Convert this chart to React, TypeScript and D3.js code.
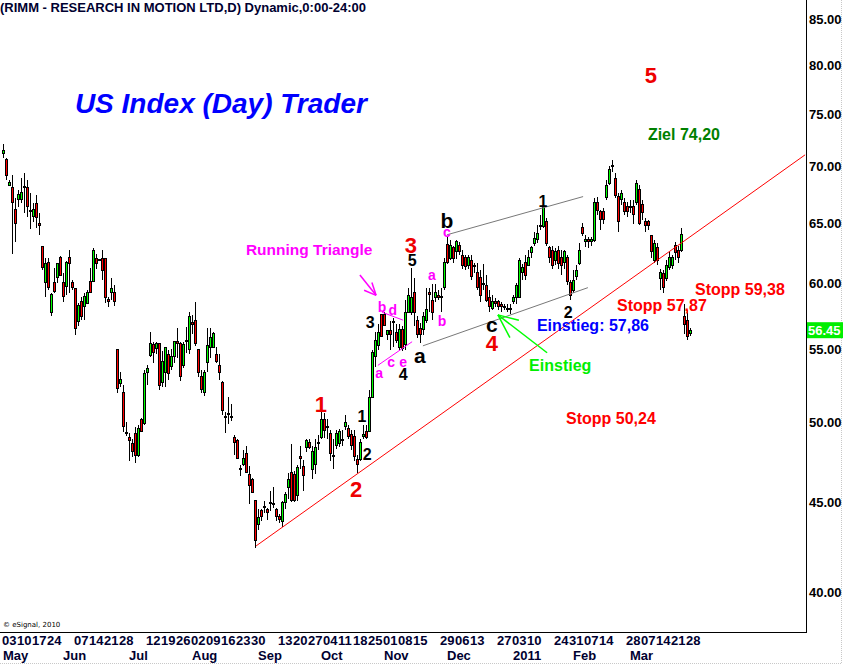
import React from 'react';
import * as d3 from 'd3';

// ---------- DATA (RIMM daily, May 3 2010 .. Mar 29 2011) ----------
const opens = [
  71.2, 70.7, 68.3, 68.1, 66.2, 67.0, 67.0, 68.2, 68.1, 66.1, 65.6, 66.7, 65.0, 63.0, 60.1, 61.7, 57.8, 60.1, 60.5, 62.1,
  60.1, 59.8, 62.1, 60.1, 59.6, 57.1, 58.6, 58.2, 58.5, 60.2, 60.2, 62.0, 61.95, 62.0, 62.0, 58.8, 59.3, 59.3, 55.0, 52.6,
  52.0, 49.35, 49.0, 48.6, 49.3, 47.9, 50.2, 49.9, 53.4, 54.6, 55.4, 55.1, 55.5, 52.7, 53.4, 54.7, 53.8, 54.5, 55.6, 55.5,
  53.9, 55.7, 55.0, 57.0, 57.2, 55.0, 53.1, 52.0, 54.1, 55.2, 55.2, 54.7, 53.9, 52.7, 50.4, 50.6, 50.4, 49.0, 48.8, 47.05,
  47.3, 48.0, 46.7, 46.4, 45.1, 43.7, 44.5, 44.75, 44.6, 44.95, 44.95, 44.6, 44.2, 43.9, 45.0, 45.9, 46.8, 46.7, 45.4, 47.8,
  47.2, 48.4, 48.7, 47.0, 47.3, 48.65, 49.0, 50.2, 49.7, 49.3, 47.9, 48.5, 48.6, 48.9, 49.7, 49.6, 49.2, 49.1, 47.6, 47.6,
  49.1, 49.4, 49.4, 51.7, 54.5, 55.3, 57.6, 57.6, 56.1, 56.4, 57.1, 56.3, 55.2, 56.5, 55.4, 57.8, 57.8, 59.3, 57.2, 56.6,
  56.5, 57.2, 59.3, 58.7, 58.9, 59.1, 59.0, 59.7, 63.2, 62.0, 62.9, 62.6, 63.1, 62.3, 62.1, 61.5, 61.9, 61.5, 60.9, 60.5,
  60.0, 59.9, 58.9, 58.1, 58.6, 58.6, 58.4, 58.2, 58.1, 58.1, 58.6, 58.9, 58.9, 60.9, 61.7, 61.5, 62.5, 63.3, 63.6, 64.8,
  64.7, 65.1, 62.9, 62.7, 61.9, 62.7, 62.1, 61.7, 62.1, 60.1, 59.5, 60.6, 61.6, 64.6, 63.4, 63.6, 63.4, 63.5, 66.8, 66.0,
  66.0, 67.2, 68.5, 70.1, 68.9, 67.3, 67.0, 66.8, 66.4, 66.3, 66.4, 66.8, 67.9, 66.6, 65.1, 65.1, 63.9, 61.9, 62.9, 60.4,
  60.8, 60.4, 61.3, 61.5, 63.1, 62.7, 62.7, 57.5, 57.2, 56.2,
];
const highs = [
  72.1, 70.8, 68.8, 69.2, 67.2, 67.9, 69.0, 69.4, 68.8, 67.6, 66.7, 67.4, 65.9, 63.0, 62.1, 62.1, 59.3, 61.3, 61.7, 62.2,
  60.9, 61.8, 62.7, 60.3, 59.7, 58.5, 59.0, 59.3, 59.5, 61.3, 62.9, 62.4, 62.0, 62.7, 62.0, 59.0, 60.5, 59.9, 55.0, 53.4,
  52.5, 50.0, 49.3, 48.9, 49.7, 49.8, 50.3, 53.6, 53.9, 56.3, 55.6, 55.6, 55.5, 54.9, 55.2, 55.0, 55.1, 55.6, 56.6, 55.6,
  55.6, 56.7, 57.8, 57.6, 58.6, 55.1, 53.6, 53.6, 56.6, 56.6, 56.3, 55.2, 54.7, 52.8, 50.7, 51.7, 51.2, 49.2, 48.9, 47.3,
  48.2, 48.5, 47.2, 46.5, 45.1, 44.6, 44.6, 45.1, 44.7, 45.7, 45.9, 44.7, 44.3, 45.1, 45.6, 46.8, 48.6, 46.9, 47.3, 48.5,
  47.6, 48.9, 48.9, 48.5, 48.9, 49.2, 51.2, 50.6, 50.2, 49.5, 48.9, 49.5, 49.6, 49.5, 50.5, 49.8, 49.5, 49.5, 47.9, 48.9,
  49.8, 49.8, 52.2, 55.0, 56.3, 56.9, 57.7, 57.8, 56.5, 57.1, 57.4, 56.9, 56.9, 56.8, 58.7, 59.7, 61.3, 60.5, 57.5, 57.0,
  57.8, 59.7, 59.7, 60.0, 60.0, 59.5, 59.7, 62.1, 63.9, 63.6, 63.1, 63.6, 63.4, 62.7, 62.3, 62.3, 62.3, 61.7, 61.7, 61.1,
  61.6, 60.7, 59.5, 59.1, 58.9, 58.7, 58.6, 58.4, 58.4, 58.4, 59.1, 60.1, 62.1, 61.6, 62.3, 62.7, 63.1, 64.2, 64.8, 65.7,
  66.8, 65.4, 63.1, 63.1, 62.9, 63.1, 62.7, 62.7, 62.3, 60.3, 61.1, 61.5, 63.3, 65.0, 64.0, 63.8, 63.8, 67.2, 67.3, 66.1,
  66.3, 68.8, 70.1, 70.6, 69.4, 67.6, 67.9, 67.2, 66.8, 67.0, 67.0, 68.8, 68.3, 67.0, 65.4, 65.3, 64.0, 63.6, 63.3, 61.2,
  61.1, 61.9, 62.6, 62.3, 63.4, 63.1, 64.6, 58.4, 58.0, 56.6,
];
const lows = [
  70.8, 68.8, 68.2, 62.4, 63.4, 66.4, 66.7, 65.9, 65.5, 64.5, 65.1, 64.6, 64.0, 61.1, 59.0, 59.5, 57.5, 59.3, 60.1, 60.6,
  58.6, 59.1, 59.3, 59.5, 56.1, 56.8, 57.2, 57.2, 58.4, 59.3, 60.2, 61.2, 61.8, 60.3, 58.5, 58.2, 58.7, 58.3, 52.0, 52.4,
  49.4, 49.1, 47.5, 47.8, 47.4, 47.8, 49.4, 49.8, 52.5, 54.5, 54.1, 54.7, 52.2, 52.4, 52.4, 52.9, 53.6, 54.1, 54.4, 52.8,
  53.7, 54.8, 54.7, 56.2, 55.3, 53.1, 52.0, 51.8, 53.4, 54.4, 55.2, 54.1, 52.9, 50.5, 49.3, 49.9, 50.1, 47.9, 47.7, 46.6,
  47.2, 46.8, 44.9, 45.6, 42.4, 43.4, 43.9, 44.4, 44.0, 44.5, 44.7, 43.9, 43.8, 43.6, 44.6, 45.2, 45.0, 45.0, 45.1, 47.0,
  45.7, 48.1, 48.3, 46.4, 46.7, 48.2, 48.9, 49.0, 48.9, 47.5, 47.0, 48.3, 48.4, 48.5, 49.5, 48.9, 48.2, 47.5, 46.8, 47.5,
  48.9, 48.9, 49.4, 51.6, 53.8, 55.0, 56.0, 56.8, 55.7, 55.0, 55.2, 55.5, 55.0, 54.9, 55.0, 57.8, 57.6, 56.8, 55.9, 55.5,
  56.1, 57.0, 57.8, 57.2, 58.6, 58.7, 57.8, 59.5, 61.6, 61.9, 61.7, 62.0, 62.3, 61.2, 61.1, 61.2, 60.3, 60.9, 59.5, 58.6,
  59.5, 58.6, 57.8, 58.0, 58.2, 58.0, 57.8, 58.0, 57.8, 57.7, 58.4, 58.4, 58.9, 60.3, 60.3, 61.4, 62.1, 63.1, 63.3, 64.4,
  64.6, 63.1, 61.7, 61.2, 61.5, 61.2, 60.7, 61.2, 59.9, 58.7, 59.3, 60.3, 61.5, 63.9, 63.0, 62.9, 63.1, 63.4, 65.7, 64.4,
  64.9, 67.0, 68.3, 69.5, 67.2, 64.2, 66.6, 65.7, 65.5, 65.9, 64.9, 66.6, 64.8, 65.3, 64.2, 64.4, 62.1, 61.7, 61.5, 59.5,
  59.3, 60.2, 61.1, 61.2, 61.9, 61.7, 62.6, 56.2, 55.7, 56.0,
];
const closes = [
  71.5, 69.2, 68.6, 66.8, 65.0, 67.5, 67.7, 68.1, 66.4, 66.0, 66.2, 65.5, 64.8, 61.3, 61.6, 59.7, 59.2, 59.4, 61.6, 60.7,
  59.0, 61.7, 61.6, 59.7, 56.6, 58.3, 57.5, 59.0, 59.3, 59.3, 62.7, 61.6, 61.9, 61.1, 58.9, 58.6, 59.6, 58.6, 52.3, 52.9,
  49.7, 49.3, 48.8, 48.1, 47.9, 49.6, 49.4, 53.3, 53.7, 55.5, 54.8, 55.5, 52.5, 54.2, 55.2, 53.3, 54.5, 55.6, 55.5, 53.1,
  55.4, 55.6, 57.5, 56.9, 55.5, 53.4, 52.2, 53.4, 55.3, 55.9, 56.2, 54.2, 53.4, 50.8, 50.3, 50.5, 50.35, 48.7, 47.7, 47.0,
  47.7, 46.8, 46.0, 45.6, 42.8, 44.1, 44.2, 44.7, 44.4, 45.0, 44.9, 44.2, 44.0, 45.0, 45.5, 46.4, 45.1, 45.1, 47.1, 47.7,
  46.6, 48.8, 48.4, 48.1, 48.4, 48.7, 50.2, 49.5, 49.65, 48.0, 47.85, 49.3, 49.4, 48.8, 50.0, 49.1, 48.5, 47.8, 47.3, 48.7,
  49.2, 49.0, 51.7, 54.8, 55.7, 56.3, 56.0, 56.8, 56.4, 56.1, 57.0, 55.7, 56.5, 55.1, 57.8, 59.1, 58.9, 57.8, 56.1, 56.1,
  57.5, 58.0, 59.2, 57.8, 59.3, 58.9, 58.9, 61.7, 61.7, 63.1, 62.0, 63.4, 62.6, 61.5, 61.4, 62.1, 60.6, 61.4, 59.7, 59.1,
  60.0, 58.7, 58.2, 58.6, 58.5, 58.2, 58.2, 58.2, 58.1, 58.0, 58.9, 59.9, 61.9, 61.3, 60.7, 62.1, 62.9, 63.7, 64.1, 64.8,
  66.3, 63.3, 62.1, 61.5, 62.6, 61.6, 61.5, 62.6, 60.2, 59.1, 60.3, 61.1, 62.7, 64.1, 63.6, 63.4, 63.6, 66.8, 66.1, 65.3,
  65.3, 68.3, 69.7, 70.1, 67.4, 65.1, 67.6, 66.0, 66.0, 66.4, 65.7, 68.5, 65.0, 65.9, 64.8, 64.8, 62.6, 63.3, 61.9, 60.9,
  59.7, 61.5, 62.1, 62.1, 62.5, 62.1, 64.0, 56.9, 56.0, 56.45,
];

const priceTicks = [40, 45, 50, 55, 60, 65, 70, 75, 80, 85];
const dayTickIndex = [0, 5, 10, 15, 24, 29, 34, 39, 48, 53, 58, 63, 68, 73, 78, 83, 92, 97, 102, 107, 112, 117, 122,
  127, 132, 137, 146, 151, 156, 165, 170, 175, 184, 189, 194, 199, 208, 213, 218, 223, 228];
const dayTickText = ['03', '10', '17', '24', '07', '14', '21', '28', '12', '19', '26', '02', '09', '16', '23', '30',
  '13', '20', '27', '04', '11', '18', '25', '01', '08', '15', '29', '06', '13', '27', '03', '10', '24', '31', '07',
  '14', '28', '07', '14', '21', '28'];
const monthTickIndex = [0, 20, 42, 63, 85, 106, 127, 148, 170, 190, 209];
const monthTickText = ['May', 'Jun', 'Jul', 'Aug', 'Sep', 'Oct', 'Nov', 'Dec', '2011', 'Feb', 'Mar'];

// annotations in data space (bar index, price)
const redWaveLabels = [
  { t: '1', i: 105.8, p: 50.7 }, { t: '2', i: 117.5, p: 45.3 }, { t: '3', i: 135.8, p: 62.5 },
  { t: '4', i: 162.8, p: 54.9 }, { t: '5', i: 215.8, p: 78.2 },
];
const blackDigitLabels = [
  { t: '1', i: 119.5, p: 50.0 }, { t: '2', i: 121.2, p: 47.6 }, { t: '3', i: 122.2, p: 56.6 },
  { t: '4', i: 133.2, p: 52.9 }, { t: '5', i: 136.2, p: 61.4 }, { t: '1', i: 179.8, p: 66.4 },
  { t: '2', i: 188.2, p: 57.4 },
];
const blackLetterLabels = [
  { t: 'a', i: 138.8, p: 54.1 }, { t: 'b', i: 147.8, p: 64.6 }, { t: 'c', i: 162.8, p: 56.3 },
];
const magentaLabels = [
  { t: 'a', i: 125.2, p: 53.0 }, { t: 'b', i: 126.2, p: 57.8 }, { t: 'c', i: 129.2, p: 53.8 },
  { t: 'd', i: 129.8, p: 57.6 }, { t: 'e', i: 133.2, p: 53.8 }, { t: 'a', i: 142.8, p: 60.3 },
  { t: 'b', i: 146.2, p: 56.8 }, { t: 'c', i: 147.8, p: 63.8 },
];
const trendLine = [{ i: 84.2, p: 42.5 }, { i: 267.2, p: 71.1 }];
const channelUpper = [{ i: 147.8, p: 64.0 }, { i: 193.2, p: 67.3 }];
const channelLower = [{ i: 139.8, p: 55.3 }, { i: 194.8, p: 59.7 }];
const triangleUpper = [{ i: 126.2, p: 57.8 }, { i: 133.2, p: 57.2 }];
const triangleLower = [{ i: 124.8, p: 53.9 }, { i: 136.2, p: 55.6 }];
const magentaArrow = { tail: { i: 118.8, p: 60.7 }, tip: { i: 124.2, p: 59.1 }, heads: [{ i: 120.2, p: 59.5 }, { i: 122.8, p: 60.1 }] };
const greenArrow = { tail: { i: 181.2, p: 54.8 }, tip: { i: 164.8, p: 57.6 }, heads: [{ i: 171.8, p: 57.2 }, { i: 168.8, p: 55.9 }] };
const notes = {
  title: { t: 'US Index (Day) Trader', i: 23.8, p: 75.1 },
  triangle: { t: 'Running Triangle', i: 80.8, p: 62.3 },
  target: { t: 'Ziel 74,20', i: 214.8, p: 72.5 },
  entryValue: { t: 'Einstieg: 57,86', i: 177.8, p: 56.4 },
  entry: { t: 'Einstieg', i: 175.2, p: 53.5 },
  stops: [
    { t: 'Stopp 57,87', i: 204.5, p: 57.9 },
    { t: 'Stopp 59,38', i: 230.5, p: 59.1 },
    { t: 'Stopp 50,24', i: 187.5, p: 49.9 },
  ],
};
const headerText = '(RIMM - RESEARCH IN MOTION LTD,D) Dynamic,0:00-24:00';

const FONT = 'Arial, "Liberation Sans", Helvetica, sans-serif';

export default function App() {
  const W = 843, H = 665;
  const n = closes.length;
  const x = d3.scaleLinear().domain([0, 229]).range([3.5, 690.5]);
  const y = d3.scaleLog().domain([40, 85]).range([592, 592 - 760 * Math.log(85 / 40)]);
  const frameX = 806.5, frameY = 632.5;
  const line = d3.line<{ i: number; p: number }>().x(d => x(d.i)).y(d => y(d.p));
  const last = closes[n - 1];

  const candles = d3.range(n).map(k => {
    const o = opens[k], c = closes[k];
    const top = y(Math.max(o, c)), bot = y(Math.min(o, c));
    const up = c >= o;
    return (
      <g key={k}>
        <line x1={x(k)} x2={x(k)} y1={y(highs[k])} y2={y(lows[k])} stroke="#000" strokeWidth={1} />
        <rect x={x(k) - 1} y={top} width={2} height={Math.max(1, bot - top)}
          fill={up ? '#00ff00' : '#ff0000'} stroke="#000" strokeWidth={1} />
      </g>
    );
  });

  return (
    <svg width={W} height={H} style={{ position: 'absolute', left: 0, top: 0, background: '#fff' }}
      fontFamily={FONT}>
      <rect x={0} y={0} width={W} height={H} fill="#fff" />
      {/* outer light border */}
      <line x1={841.5} x2={841.5} y1={0} y2={664} stroke="#c8c8c8" strokeDasharray="1,1" />
      <line x1={0} x2={842} y1={663.5} y2={663.5} stroke="#c8c8c8" strokeDasharray="1,1" />

      {/* header */}
      <text x={0} y={12} fontSize={13} fontWeight="bold" fill="#000030">{headerText}</text>
      <text x={x(notes.title.i)} y={y(notes.title.p)} fontSize={28} fontWeight="bold" fontStyle="italic"
        fill="#0000ff">{notes.title.t}</text>

      {/* candles */}
      <g shapeRendering="crispEdges">{candles}</g>

      {/* trend and channel lines */}
      <path d={line(trendLine) || ''} stroke="#ff0000" strokeWidth={1} fill="none" />
      <path d={line(channelUpper) || ''} stroke="#787878" strokeWidth={1} fill="none" />
      <path d={line(channelLower) || ''} stroke="#787878" strokeWidth={1} fill="none" />
      <path d={line(triangleUpper) || ''} stroke="#ff00ff" strokeWidth={1} fill="none" />
      <path d={line(triangleLower) || ''} stroke="#ff00ff" strokeWidth={1} fill="none" />

      {/* magenta arrow */}
      <g stroke="#ff00ff" strokeWidth={1.5} fill="none">
        <path d={line([magentaArrow.tail, magentaArrow.tip]) || ''} />
        {magentaArrow.heads.map((h, k) => <path key={k} d={line([h, magentaArrow.tip]) || ''} />)}
      </g>
      {/* green arrow */}
      <g stroke="#00ff00" strokeWidth={1.5} fill="none">
        <path d={line([greenArrow.tail, greenArrow.tip]) || ''} />
        {greenArrow.heads.map((h, k) => <path key={k} d={line([h, greenArrow.tip]) || ''} />)}
      </g>

      {/* wave labels */}
      {redWaveLabels.map((l, k) => (
        <text key={'r' + k} x={x(l.i)} y={y(l.p)} fontSize={22} fontWeight="bold" fill="#ee0000" textAnchor="middle">{l.t}</text>
      ))}
      {blackDigitLabels.map((l, k) => (
        <text key={'bd' + k} x={x(l.i)} y={y(l.p)} fontSize={16} fontWeight="bold" fill="#000" textAnchor="middle">{l.t}</text>
      ))}
      {blackLetterLabels.map((l, k) => (
        <text key={'bl' + k} x={x(l.i)} y={y(l.p)} fontSize={21} fontWeight="bold" fill="#000" textAnchor="middle">{l.t}</text>
      ))}
      {magentaLabels.map((l, k) => (
        <text key={'m' + k} x={x(l.i)} y={y(l.p)} fontSize={14} fontWeight="bold" fill="#ff00ff" textAnchor="middle">{l.t}</text>
      ))}

      {/* notes */}
      <text x={x(notes.triangle.i)} y={y(notes.triangle.p)} fontSize={15.5} fontWeight="bold" fill="#ff00ff">{notes.triangle.t}</text>
      <text x={x(notes.target.i)} y={y(notes.target.p)} fontSize={16} fontWeight="bold" fill="#008000">{notes.target.t}</text>
      <text x={x(notes.entryValue.i)} y={y(notes.entryValue.p)} fontSize={16} fontWeight="bold" fill="#0000ff">{notes.entryValue.t}</text>
      <text x={x(notes.entry.i)} y={y(notes.entry.p)} fontSize={16} fontWeight="bold" fill="#00ee00">{notes.entry.t}</text>
      {notes.stops.map((s, k) => (
        <text key={'s' + k} x={x(s.i)} y={y(s.p)} fontSize={16} fontWeight="bold" fill="#ff0000">{s.t}</text>
      ))}

      {/* frame */}
      <line x1={frameX} x2={frameX} y1={0} y2={frameY} stroke="#000" shapeRendering="crispEdges" />
      <line x1={0} x2={frameX} y1={frameY} y2={frameY} stroke="#000" shapeRendering="crispEdges" />

      {/* price axis */}
      {priceTicks.map(v => (
        <text key={v} x={809} y={y(v) + 4.5} fontSize={13} fontWeight="bold" fill="#000">{v.toFixed(2)}</text>
      ))}
      <rect x={807} y={y(last) - 8} width={36} height={16} fill="#00ee00" />
      <text x={808} y={y(last) + 5} fontSize={13} fontWeight="bold" fill="#fff">{last.toFixed(2)}</text>

      {/* time axis */}
      {dayTickIndex.map((d, k) => (
        <text key={'d' + k} x={x(d) - 1.5} y={645} fontSize={13} fontWeight="bold" fill="#000030">{dayTickText[k]}</text>
      ))}
      {monthTickIndex.map((d, k) => (
        <text key={'mo' + k} x={x(d) - 0.5} y={660} fontSize={13} fontWeight="bold" fill="#000030">{monthTickText[k]}</text>
      ))}

      <text x={3} y={627} fontSize={7} fill="#000" fontFamily='"DejaVu Sans", sans-serif'>© eSignal, 2010</text>
    </svg>
  );
}
